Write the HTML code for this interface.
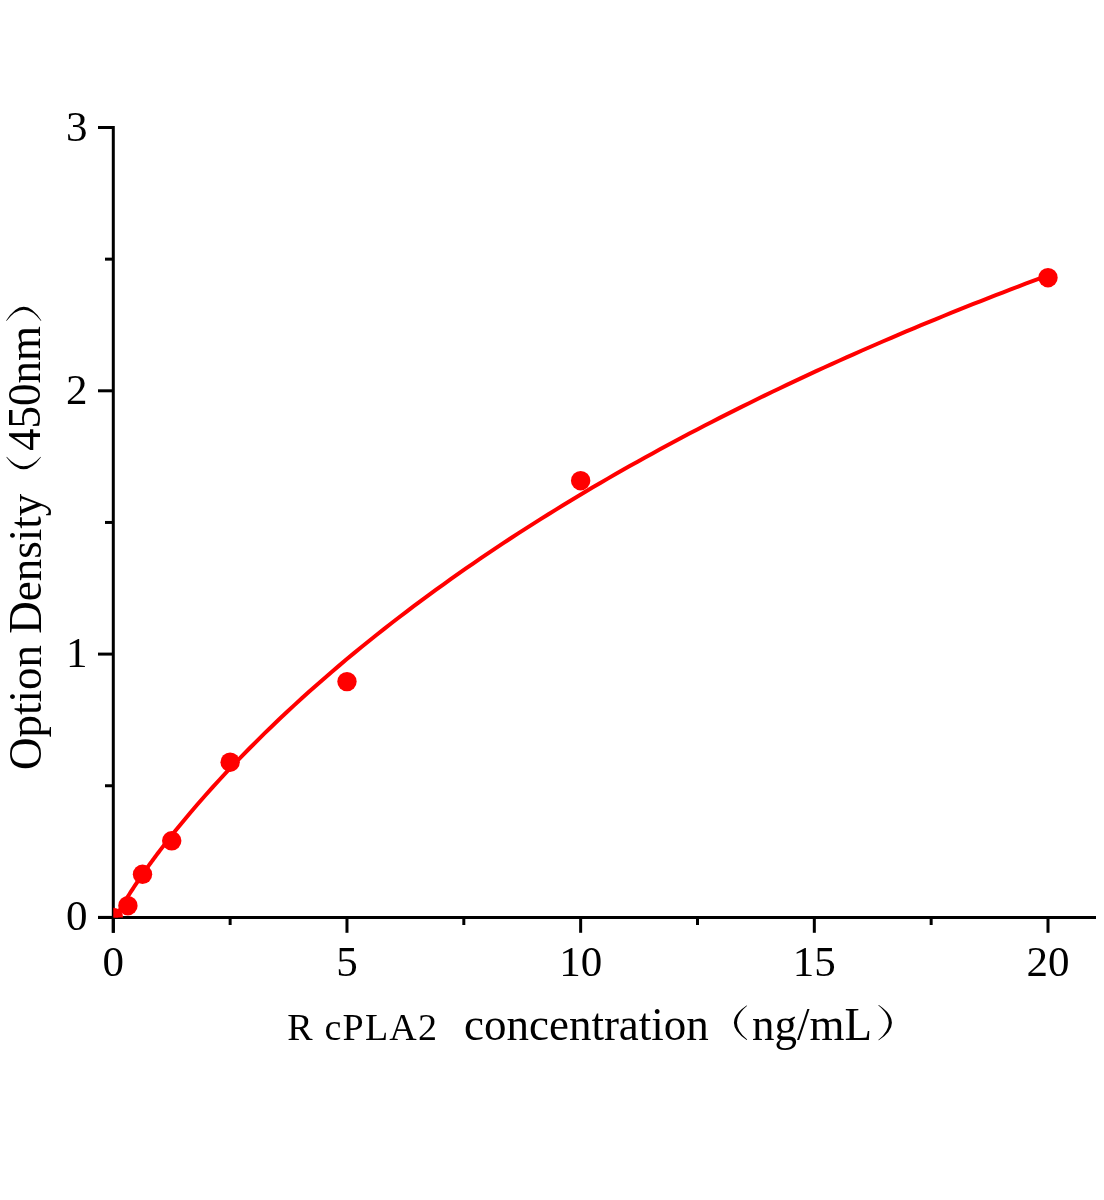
<!DOCTYPE html>
<html><head><meta charset="utf-8"><style>
html,body{margin:0;padding:0;background:#fff;width:1104px;height:1200px;overflow:hidden}
svg{display:block;will-change:transform}
text{font-family:"Liberation Serif",serif;fill:#000}
</style></head><body>
<svg width="1104" height="1200" viewBox="0 0 1104 1200">
<defs><clipPath id="pc"><rect x="113.3" y="0" width="1000" height="917.4"/></clipPath></defs>
<rect width="1104" height="1200" fill="#fff"/>

<g stroke="#000" stroke-width="3" fill="none">
<line x1="113.3" y1="126" x2="113.3" y2="932.8"/>
<line x1="98" y1="917.4" x2="1096" y2="917.4"/>
<line x1="98" y1="917.40" x2="113.3" y2="917.40"/>
<line x1="98" y1="654.10" x2="113.3" y2="654.10"/>
<line x1="98" y1="390.80" x2="113.3" y2="390.80"/>
<line x1="98" y1="127.50" x2="113.3" y2="127.50"/>
<line x1="105" y1="785.75" x2="113.3" y2="785.75"/>
<line x1="105" y1="522.45" x2="113.3" y2="522.45"/>
<line x1="105" y1="259.15" x2="113.3" y2="259.15"/>
<line x1="113.30" y1="917.4" x2="113.30" y2="932.8"/>
<line x1="346.98" y1="917.4" x2="346.98" y2="932.8"/>
<line x1="580.65" y1="917.4" x2="580.65" y2="932.8"/>
<line x1="814.32" y1="917.4" x2="814.32" y2="932.8"/>
<line x1="1048.00" y1="917.4" x2="1048.00" y2="932.8"/>
<line x1="230.14" y1="917.4" x2="230.14" y2="925"/>
<line x1="463.81" y1="917.4" x2="463.81" y2="925"/>
<line x1="697.49" y1="917.4" x2="697.49" y2="925"/>
<line x1="931.16" y1="917.4" x2="931.16" y2="925"/>

</g>
<g clip-path="url(#pc)" fill="#ff0000">
<polyline points="113.30,923.66 114.50,920.60 115.70,918.04 116.90,915.64 118.10,913.35 119.30,911.13 120.49,908.98 121.69,906.87 122.89,904.80 124.09,902.77 125.29,900.78 126.49,898.81 127.68,896.87 128.88,894.95 130.08,893.05 131.28,891.18 132.48,889.33 133.67,887.49 134.87,885.67 136.07,883.87 137.27,882.08 138.47,880.31 139.67,878.55 140.86,876.81 142.06,875.08 143.26,873.36 144.46,871.65 145.66,869.95 146.85,868.27 148.05,866.60 149.25,864.93 150.45,863.28 151.65,861.64 152.85,860.01 154.04,858.38 155.24,856.77 156.44,855.16 157.64,853.56 158.84,851.98 160.03,850.40 167.50,840.73 174.96,831.34 182.42,822.20 189.88,813.28 197.34,804.56 204.81,796.04 212.27,787.69 219.73,779.51 227.19,771.48 234.65,763.61 242.12,755.87 249.58,748.27 257.04,740.79 264.50,733.43 271.96,726.19 279.43,719.06 286.89,712.04 294.35,705.13 301.81,698.31 309.27,691.59 316.73,684.96 324.20,678.43 331.66,671.98 339.12,665.61 346.58,659.33 354.04,653.13 361.51,647.01 368.97,640.96 376.43,634.99 383.89,629.08 391.35,623.25 398.82,617.49 406.28,611.79 413.74,606.16 421.20,600.59 428.66,595.09 436.12,589.64 443.59,584.26 451.05,578.93 458.51,573.66 465.97,568.44 473.43,563.28 480.90,558.18 488.36,553.12 495.82,548.12 503.28,543.17 510.74,538.27 518.21,533.41 525.67,528.60 533.13,523.84 540.59,519.13 548.05,514.46 555.52,509.83 562.98,505.25 570.44,500.71 577.90,496.22 585.36,491.76 592.82,487.34 600.29,482.97 607.75,478.63 615.21,474.33 622.67,470.07 630.13,465.85 637.60,461.67 645.06,457.52 652.52,453.40 659.98,449.32 667.44,445.28 674.91,441.27 682.37,437.29 689.83,433.35 697.29,429.44 704.75,425.56 712.21,421.71 719.68,417.89 727.14,414.11 734.60,410.35 742.06,406.63 749.52,402.93 756.99,399.26 764.45,395.62 771.91,392.01 779.37,388.43 786.83,384.88 794.30,381.35 801.76,377.85 809.22,374.37 816.68,370.92 824.14,367.50 831.61,364.10 839.07,360.73 846.53,357.38 853.99,354.06 861.45,350.76 868.91,347.48 876.38,344.23 883.84,341.00 891.30,337.80 898.76,334.61 906.22,331.45 913.69,328.31 921.15,325.20 928.61,322.10 936.07,319.03 943.53,315.98 951.00,312.95 958.46,309.93 965.92,306.94 973.38,303.97 980.84,301.02 988.30,298.09 995.77,295.18 1003.23,292.29 1010.69,289.42 1018.15,286.56 1025.61,283.73 1033.08,280.91 1040.54,278.11 1048.00,275.33" fill="none" stroke="#ff0000" stroke-width="4" stroke-linejoin="round"/>
<circle cx="113.3" cy="917.4" r="9.7"/>
<circle cx="127.90" cy="905.70" r="9.70"/>
<circle cx="142.51" cy="874.30" r="9.70"/>
<circle cx="171.72" cy="840.80" r="9.70"/>
<circle cx="230.14" cy="762.20" r="9.70"/>
<circle cx="346.98" cy="681.60" r="9.70"/>
<circle cx="580.65" cy="480.70" r="9.70"/>
<circle cx="1048.00" cy="277.70" r="9.70"/>
</g>
<g font-size="43">
<text transform="translate(87.5,930.40) scale(1,1.0)" text-anchor="end">0</text>
<text transform="translate(87.5,667.10) scale(1,1.0)" text-anchor="end">1</text>
<text transform="translate(87.5,403.80) scale(1,1.0)" text-anchor="end">2</text>
<text transform="translate(87.5,140.50) scale(1,1.0)" text-anchor="end">3</text>

<text transform="translate(113.30,976.1) scale(1,1.0)" text-anchor="middle">0</text>
<text transform="translate(346.98,976.1) scale(1,1.0)" text-anchor="middle">5</text>
<text transform="translate(580.65,976.1) scale(1,1.0)" text-anchor="middle">10</text>
<text transform="translate(814.32,976.1) scale(1,1.0)" text-anchor="middle">15</text>
<text transform="translate(1048.00,976.1) scale(1,1.0)" text-anchor="middle">20</text>

</g>
<g font-size="45">
<text transform="translate(40.5,770) rotate(-90) scale(1,1.035)">Option Density</text>
<text transform="translate(40,451) rotate(-90) scale(1,1.035)">450nm</text>
<text transform="translate(464,1039.6) scale(1,1.035)">concentration</text>
<text transform="translate(752,1039.6) scale(1,1.035)">ng/mL</text>
</g>
<text x="287.3" y="1039.8" font-size="38" letter-spacing="1.2">R cPLA2</text>
<g fill="#000">
<path d="M746.60,1005.40 Q721.20,1022.65 746.60,1039.90 L747.20,1039.60 Q726.80,1022.65 747.20,1005.70 Z"/>
<path d="M878.80,1005.00 Q905.00,1022.65 878.80,1040.30 L878.20,1040.00 Q899.40,1022.65 878.20,1005.30 Z"/>
</g>
<g fill="#000" transform="translate(0,0)">
<g transform="translate(0.00,0.00) rotate(-90)"><path d="M-457.30,6.40 Q-481.30,23.65 -457.30,40.90 L-456.70,40.60 Q-475.70,23.65 -456.70,6.70 Z"/></g><g transform="translate(0.00,0.00) rotate(-90)"><path d="M-320.50,6.20 Q-292.90,23.75 -320.50,41.30 L-321.10,41.00 Q-298.50,23.75 -321.10,6.50 Z"/></g>
</g>
</svg>
</body></html>
